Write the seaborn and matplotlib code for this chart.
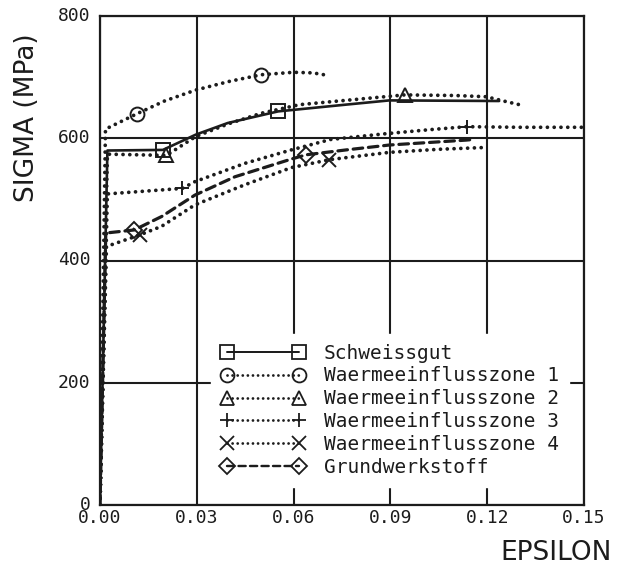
import numpy as np
import matplotlib
matplotlib.use("Agg")
import matplotlib.pyplot as plt
from matplotlib.lines import Line2D
from matplotlib.ticker import MultipleLocator
import matplotlib.transforms as mtransforms
import seaborn as sns

# values
eps_sg = [0, 0.0023, 0.0195, 0.0297, 0.0396, 0.0552, 0.0761, 0.0897, 0.1237]
sig_sg = [0, 580, 581, 606, 625, 644, 655, 662, 661]
mark_sg = [2, 5]

eps_w1 = [0, 0.0017, 0.0114, 0.0200, 0.0297, 0.0400, 0.0500, 0.0600, 0.0660, 0.0705]
sig_w1 = [0, 615, 640, 661, 679, 693, 704, 708, 707, 703]
mark_w1 = [2, 6]

eps_w2 = [0, 0.0023, 0.0206, 0.0297, 0.0400, 0.0500, 0.0618, 0.0760, 0.0944, 0.1100, 0.1197, 0.1259, 0.1300]
sig_w2 = [0, 574, 572, 603, 624, 641, 655, 662, 671, 670, 668, 660, 655]
mark_w2 = [2, 8]

eps_w3 = [0, 0.0023, 0.0255, 0.0294, 0.0449, 0.0593, 0.0714, 0.0876, 0.1020, 0.1136, 0.1300, 0.1500]
sig_w3 = [0, 509, 518, 529, 559, 581, 598, 607, 614, 619, 618, 618]
mark_w3 = [2, 9]

eps_w4 = [0, 0.0020, 0.0124, 0.0191, 0.0294, 0.0449, 0.0593, 0.0711, 0.0897, 0.1050, 0.1195]
sig_w4 = [0, 423, 442, 456, 491, 524, 552, 565, 577, 582, 585]
mark_w4 = [2, 7]

eps_gw = [0, 0.0018, 0.0106, 0.0191, 0.0294, 0.0418, 0.0593, 0.0639, 0.0763, 0.0897, 0.1134, 0.1155]
sig_gw = [0, 445, 450, 472, 507, 537, 566, 573, 581, 589, 597, 598]
mark_gw = [2, 7]

labels = ["Schweissgut", "Waermeeinflusszone 1", "Waermeeinflusszone 2",
          "Waermeeinflusszone 3", "Waermeeinflusszone 4", "Grundwerkstoff"]
x_ticks = [0, 0.03, 0.06, 0.09, 0.12, 0.15]
x_ticklabels = ["0.00", "0.03", "0.06", "0.09", "0.12", "0.15"]
y_ticks = [0, 200, 400, 600, 800]
y_ticklabels = ["0", "200", "400", "600", "800"]

ink = "#1c1c1c"
dotted = (0, (0.01, 1.8))
dashed = (0, (3.0, 1.8))

series = [
    (eps_sg, sig_sg, mark_sg, "-", "s", 1.9),
    (eps_w1, sig_w1, mark_w1, dotted, "o", 2.7),
    (eps_w2, sig_w2, mark_w2, dotted, "^", 2.7),
    (eps_w3, sig_w3, mark_w3, dotted, "+", 2.7),
    (eps_w4, sig_w4, mark_w4, dotted, "x", 2.7),
    (eps_gw, sig_gw, mark_gw, dashed, "D", 2.3),
]

sns.set_style("white")
plt.rcParams["font.family"] = ["DejaVu Sans"]

fig = plt.figure(figsize=(6.34, 5.67), dpi=100)
ax = fig.add_axes([0.1577, 0.1093, 0.7634, 0.8624])

handles = []
for (ex, sy, mk, ls, m, lw), lab in zip(series, labels):
    sns.lineplot(x=ex, y=sy, sort=False, estimator=None, color=ink,
                 linestyle=ls, lw=lw, dash_capstyle="round", ax=ax, zorder=3)
    mx = [ex[i] for i in mk]
    my = [sy[i] for i in mk]
    msize = 10 if m != "D" else 8
    sns.lineplot(x=mx, y=my, sort=False, estimator=None, color=ink,
                 linestyle="none", marker=m, markersize=msize,
                 markerfacecolor="none", markeredgecolor=ink,
                 markeredgewidth=1.4, ax=ax, zorder=4)
    handles.append(Line2D([], [], color=ink, linestyle=ls, lw=lw * 0.75,
                          dash_capstyle="round", marker=m, markersize=msize,
                          markerfacecolor="none", markeredgecolor=ink,
                          markeredgewidth=1.3, label=lab))

ax.set_xlim(0, 0.15)
ax.set_ylim(0, 800)
ax.set_xticks(x_ticks, x_ticklabels)
ax.set_yticks(y_ticks, y_ticklabels)
ax.xaxis.set_minor_locator(MultipleLocator(0.003))
ax.yaxis.set_minor_locator(MultipleLocator(20))
ax.tick_params(which="major", direction="in", length=7, width=1.2, color=ink,
               labelcolor=ink)
ax.tick_params(axis="x", which="major", labelsize=13, pad=3)
ax.tick_params(axis="y", which="major", labelsize=13, pad=7)
ax.tick_params(which="minor", direction="in", length=4, width=1.0, color=ink,
               top=False, right=False)
lift = mtransforms.ScaledTranslation(0, 1.5 / 72, fig.dpi_scale_trans)
for lab in ax.get_xticklabels() + ax.get_yticklabels():
    lab.set_family("DejaVu Sans Mono")
for lab in ax.get_yticklabels():
    lab.set_transform(lab.get_transform() + lift)
ax.grid(True, which="major", color=ink, lw=1.5)
ax.set_axisbelow(True)
for sp in ax.spines.values():
    sp.set_color(ink)
    sp.set_linewidth(1.6)
ax.set_xlabel("")
ax.set_ylabel("")

leg = ax.legend(handles=handles, loc="upper left",
                bbox_to_anchor=(0.21, 0.37), numpoints=2,
                handlelength=4.3, handletextpad=1.0, labelspacing=0.2,
                borderpad=0.5, frameon=True, fancybox=False,
                prop={"family": "DejaVu Sans Mono", "size": 14})
leg.get_frame().set_facecolor("white")
leg.get_frame().set_edgecolor("white")
leg.get_frame().set_alpha(1)
leg.set_zorder(5)
for t in leg.get_texts():
    t.set_color(ink)

fig.text(27 / 634, 1 - 118 / 567, "SIGMA (MPa)", rotation=90, ha="center",
         va="center", fontsize=19, color=ink)
fig.text(612 / 634, 1 - 553 / 567, "EPSILON", ha="right", va="center",
         fontsize=19, color=ink)

fig.savefig("out.png", dpi=100, facecolor="white")
